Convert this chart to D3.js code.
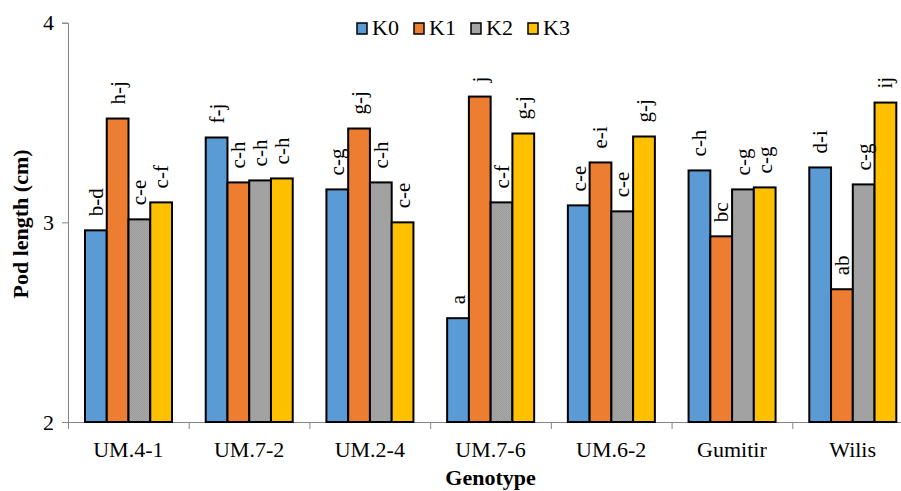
<!DOCTYPE html>
<html>
<head>
<meta charset="utf-8">
<script src="https://cdn.jsdelivr.net/npm/d3@7"></script>
<style>
  html, body { margin: 0; padding: 0; background: #fff; }
  svg text { font-family: "Liberation Serif", "Times New Roman", Times, "DejaVu Serif", serif; }
</style>
</head>
<body>
<div id="chart"></div>
<script>
// Pod length by genotype and K treatment
const genotypes = ['UM.4-1', 'UM.7-2', 'UM.2-4', 'UM.7-6', 'UM.6-2', 'Gumitir', 'Wilis'];
const seriesNames = ['K0', 'K1', 'K2', 'K3'];

const k0 = [2.96, 3.425, 3.165, 2.52, 3.085, 3.26, 3.275];
const k1 = [3.52, 3.20, 3.47, 3.63, 3.30, 2.93, 2.665];
const k2 = [3.015, 3.21, 3.20, 3.10, 3.055, 3.165, 3.19];
const k3 = [3.10, 3.22, 3.00, 3.445, 3.43, 3.175, 3.60];

const letters0 = ['b-d', 'f-j', 'c-g', 'a', 'c-e', 'c-h', 'd-i'];
const letters1 = ['h-j', 'c-h', 'g-j', 'j', 'e-i', 'bc', 'ab'];
const letters2 = ['c-e', 'c-h', 'c-h', 'c-f', 'c-e', 'c-g', 'c-g'];
const letters3 = ['c-f', 'c-h', 'c-e', 'g-j', 'g-j', 'c-g', 'ij'];

const yTicks = [2, 3, 4];

const colors = { K0: '#5B9BD5', K1: '#ED7D31', K2: 'url(#k2-tex)', K3: '#FFC000' };
const legendColors = { K0: '#5B9BD5', K1: '#ED7D31', K2: '#A5A5A5', K3: '#FFC000' };

const values = [k0, k1, k2, k3];
const letters = [letters0, letters1, letters2, letters3];

const data = genotypes.map((g, gi) => ({
  genotype: g,
  bars: seriesNames.map((s, si) => ({ series: s, value: values[si][gi], letter: letters[si][gi] }))
}));

const W = 901, H = 491;
const serif = '"Liberation Serif", "Times New Roman", Times, "DejaVu Serif", serif';
const svg = d3.select('#chart').append('svg')
  .attr('width', W)
  .attr('height', H)
  .style('display', 'block');

// gray texture for K2
const defs = svg.append('defs');
const pat = defs.append('pattern')
  .attr('id', 'k2-tex')
  .attr('patternUnits', 'userSpaceOnUse')
  .attr('width', 2).attr('height', 2);
pat.append('rect').attr('width', 2).attr('height', 2).attr('fill', '#A9A9A9');
pat.append('rect').attr('width', 1).attr('height', 1).attr('fill', '#9A9A9A');
pat.append('rect').attr('x', 1).attr('y', 1).attr('width', 1).attr('height', 1).attr('fill', '#9A9A9A');

const plotLeft = 68, plotRight = 913, plotTop = 22.7, plotBottom = 422;

const x0 = d3.scaleBand().domain(genotypes).range([plotLeft, plotRight]).padding(0);
const x1 = d3.scaleBand().domain(seriesNames).range([17, x0.bandwidth() - 16.7]).padding(0);
const y = d3.scaleLinear().domain([2, 4]).range([plotBottom, plotTop]);

const axisColor = '#868686';

// Y axis
const yAxis = svg.append('g')
  .attr('transform', `translate(${plotLeft},0)`)
  .call(d3.axisLeft(y).tickValues(yTicks).tickSize(6).tickPadding(8).tickFormat(d3.format('d')));
yAxis.select('.domain').attr('stroke', axisColor);
yAxis.selectAll('.tick line').attr('stroke', axisColor);
yAxis.selectAll('.tick text')
  .attr('font-family', serif)
  .attr('font-size', 22)
  .attr('fill', '#000');

// X axis
const xAxis = svg.append('g')
  .attr('transform', `translate(0,${plotBottom})`)
  .call(d3.axisBottom(x0).tickSize(0).tickPadding(19));
xAxis.select('.domain').attr('stroke', axisColor);
xAxis.selectAll('.tick text')
  .attr('font-family', serif)
  .attr('font-size', 22)
  .attr('fill', '#000');

// boundary tick marks between categories
svg.append('g').selectAll('line')
  .data(genotypes)
  .enter().append('line')
  .attr('x1', d => x0(d) + 0.5)
  .attr('x2', d => x0(d) + 0.5)
  .attr('y1', plotBottom)
  .attr('y2', plotBottom + 7)
  .attr('stroke', axisColor);

// Bars
const groups = svg.append('g').selectAll('g')
  .data(data)
  .enter().append('g')
  .attr('transform', d => `translate(${x0(d.genotype)},0)`);

groups.selectAll('rect')
  .data(d => d.bars)
  .enter().append('rect')
  .attr('x', d => x1(d.series))
  .attr('y', d => y(d.value))
  .attr('width', x1.bandwidth())
  .attr('height', d => plotBottom - y(d.value))
  .attr('fill', d => colors[d.series])
  .attr('stroke', '#000')
  .attr('stroke-width', 2);

// significance letters
groups.selectAll('text.letter')
  .data(d => d.bars)
  .enter().append('text')
  .attr('class', 'letter')
  .attr('transform', d => `translate(${x1(d.series) + x1.bandwidth() / 2 + 7},${y(d.value) - 14}) rotate(-90)`)
  .attr('text-anchor', 'start')
  .attr('font-family', serif)
  .attr('font-size', 21)
  .attr('fill', '#000')
  .text(d => d.letter);

// Axis titles
svg.append('text')
  .attr('transform', `translate(28,224) rotate(-90)`)
  .attr('text-anchor', 'middle')
  .attr('font-family', serif)
  .attr('font-size', 22)
  .attr('font-weight', 'bold')
  .text('Pod length (cm)');

svg.append('text')
  .attr('x', (plotLeft + plotRight) / 2)
  .attr('y', 485)
  .attr('text-anchor', 'middle')
  .attr('font-family', serif)
  .attr('font-size', 22)
  .attr('font-weight', 'bold')
  .text('Genotype');

// Legend
const legend = svg.append('g').selectAll('g')
  .data(seriesNames)
  .enter().append('g')
  .attr('transform', (d, i) => `translate(${357 + i * 57},23)`);

legend.append('rect')
  .attr('width', 10)
  .attr('height', 11)
  .attr('fill', d => legendColors[d])
  .attr('stroke', '#000')
  .attr('stroke-width', 1.5);

legend.append('text')
  .attr('x', 15)
  .attr('y', 12)
  .attr('font-family', serif)
  .attr('font-size', 22)
  .text(d => d);
</script>
</body>
</html>
